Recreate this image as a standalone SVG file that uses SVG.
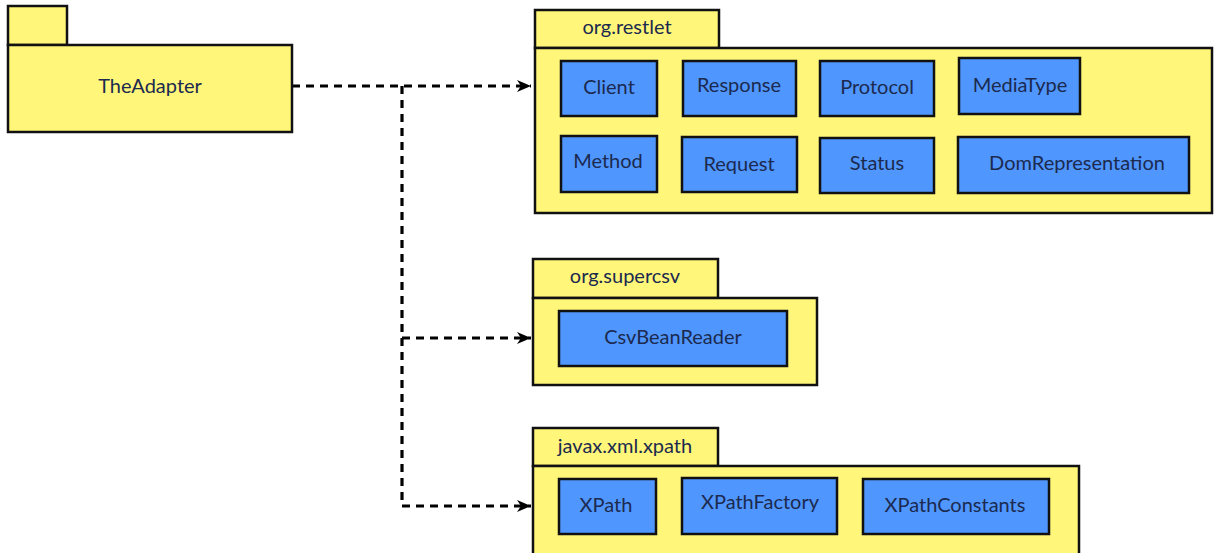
<svg xmlns="http://www.w3.org/2000/svg" width="1214" height="553" viewBox="0 0 1214 553">
<defs>
<style>
.pkg{fill:#FFF67A;stroke:#111;stroke-width:2.5}
.cls{fill:#5096FF;stroke:#111;stroke-width:2.5}
.t{font-family:Lato,"Open Sans",sans-serif;font-size:20px;fill:#1B2A4E;text-anchor:middle}
.c{fill:none;stroke:#000;stroke-width:3.2;stroke-dasharray:8 6}
</style>
<marker id="ah" viewBox="0 0 14 12" refX="14" refY="6" markerWidth="14" markerHeight="12" markerUnits="userSpaceOnUse" orient="auto">
<path d="M0,0 L14,6 L0,12 L4,6 Z" fill="#000"/>
</marker>
</defs>
<rect width="1214" height="553" fill="#fff"/>
<g id="connectors">
<path class="c" d="M292,86 H531" marker-end="url(#ah)"/>
<path class="c" d="M402,86 V506"/>
<path class="c" d="M402,338 H531" marker-end="url(#ah)"/>
<path class="c" d="M402,506 H531" marker-end="url(#ah)"/>
</g>
<g id="TheAdapter">
<rect class="pkg" x="8" y="6" width="59" height="39"/>
<rect class="pkg" x="8" y="45" width="284" height="87"/>
<text class="t" x="150" y="93">TheAdapter</text>
</g>
<g id="org.restlet">
<rect class="pkg" x="535" y="10" width="184" height="38"/>
<rect class="pkg" x="535" y="48" width="677" height="165"/>
<text class="t" x="627" y="34">org.restlet</text>
</g>
<g id="Client"><rect class="cls" x="561" y="61" width="96" height="55"/><text class="t" x="609" y="94">Client</text></g>
<g id="Response"><rect class="cls" x="683" y="61" width="113" height="55"/><text class="t" x="739" y="92">Response</text></g>
<g id="Protocol"><rect class="cls" x="820" y="61" width="114" height="55"/><text class="t" x="877" y="94">Protocol</text></g>
<g id="MediaType"><rect class="cls" x="959" y="58" width="121" height="56"/><text class="t" x="1020" y="92">MediaType</text></g>
<g id="Method"><rect class="cls" x="561" y="136" width="96" height="56"/><text class="t" x="608" y="168">Method</text></g>
<g id="Request"><rect class="cls" x="682" y="137" width="115" height="55"/><text class="t" x="739" y="171">Request</text></g>
<g id="Status"><rect class="cls" x="820" y="138" width="114" height="55"/><text class="t" x="877" y="170">Status</text></g>
<g id="DomRepresentation"><rect class="cls" x="958" y="137" width="231" height="56"/><text class="t" x="1077" y="170">DomRepresentation</text></g>
<g id="org.supercsv">
<rect class="pkg" x="533" y="259" width="185" height="39"/>
<rect class="pkg" x="533" y="298" width="284" height="87"/>
<text class="t" x="625" y="283">org.supercsv</text>
</g>
<g id="CsvBeanReader"><rect class="cls" x="559" y="311" width="228" height="55"/><text class="t" x="673" y="344">CsvBeanReader</text></g>
<g id="javax.xml.xpath">
<rect class="pkg" x="533" y="428" width="185" height="38"/>
<rect class="pkg" x="533" y="466" width="546" height="92"/>
<text class="t" x="625" y="453">javax.xml.xpath</text>
</g>
<g id="XPath"><rect class="cls" x="559" y="479" width="97" height="55"/><text class="t" x="606" y="512">XPath</text></g>
<g id="XPathFactory"><rect class="cls" x="682" y="478" width="155" height="56"/><text class="t" x="760" y="509">XPathFactory</text></g>
<g id="XPathConstants"><rect class="cls" x="863" y="479" width="186" height="55"/><text class="t" x="955" y="512">XPathConstants</text></g>
</svg>
